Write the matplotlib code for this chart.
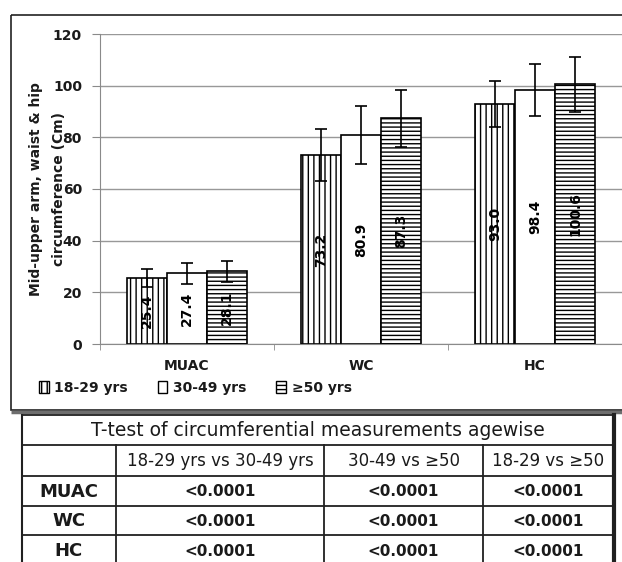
import numpy as np
import matplotlib
matplotlib.use("Agg")
import matplotlib.pyplot as plt
from matplotlib.patches import Patch, Rectangle

plt.rcParams['font.family'] = ['DejaVu Sans']

# mean circumference (cm) per age group and measurement
categories = ['MUAC', 'WC', 'HC']
groups = ['18-29 yrs', '30-49 yrs', '\u226550 yrs']
mean_18_29 = [25.4, 73.2, 93.0]
mean_30_49 = [27.4, 80.9, 98.4]
mean_50_up = [28.1, 87.3, 100.6]
sd_18_29 = [3.5, 10.2, 8.9]
sd_30_49 = [4.0, 11.2, 10.0]
sd_50_up = [4.0, 10.9, 10.6]

# t-test table
table_title = 'T-test of circumferential measurements agewise'
table_cols = ['18-29 yrs vs 30-49 yrs', '30-49 vs \u226550', '18-29 vs \u226550']
table_rows = ['MUAC', 'WC', 'HC']
p_values = [['<0.0001', '<0.0001', '<0.0001'],
            ['<0.0001', '<0.0001', '<0.0001'],
            ['<0.0001', '<0.0001', '<0.0001']]

W, H = 622, 562
fig = plt.figure(figsize=(W / 100, H / 100), dpi=100)

# background axes in pixel units for frame, legend and table
bg = fig.add_axes([0, 0, 1, 1])
bg.set_xlim(0, W)
bg.set_ylim(H, 0)
bg.axis('off')

txt = '#1a1a1a'

# chart frame with shadow
bg.add_patch(Rectangle((11, 15), 700, 395, fill=False, edgecolor='#222222', lw=1.2))
bg.plot([11, W], [411.5, 411.5], color='#6e6e6e', lw=2.5, solid_capstyle='butt')

ax = fig.add_axes([100 / W, (H - 344) / H, 522 / W, 310 / H])
x = np.arange(len(categories))
bw = 0.23
series = [(mean_18_29, sd_18_29, '|||'), (mean_30_49, sd_30_49, ''), (mean_50_up, sd_50_up, '----')]
plt.rcParams['hatch.linewidth'] = 1.0
for i, (vals, sds, hatch) in enumerate(series):
    xs = x + (i - 1) * bw
    ax.bar(xs, vals, bw, color='white', edgecolor='black', hatch=hatch, lw=1.2, zorder=2)
    ax.errorbar(xs, vals, yerr=sds, fmt='none', ecolor='black', elinewidth=1.2,
                capsize=4.5, capthick=1.2, zorder=3)
    for xv, v in zip(xs, vals):
        ax.text(xv, v / 2, f'{v:.1f}', rotation=90, ha='center', va='center',
                fontsize=10, fontweight='bold', color='black', zorder=4)

ax.set_xlim(-0.5, 2.5)
ax.set_ylim(0, 120)
ax.set_yticks(np.arange(0, 121, 20))
ax.grid(axis='y', color='#989898', lw=1)
ax.set_axisbelow(True)
for s in ['top', 'right']:
    ax.spines[s].set_visible(False)
for s in ['left', 'bottom']:
    ax.spines[s].set_color('#8a8a8a')
ax.set_xticks(x)
ax.set_xticklabels(categories)
ax.set_xticks([-0.5, 0.5, 1.5, 2.5], minor=True)
ax.tick_params(axis='x', which='major', length=0, pad=11)
ax.tick_params(axis='x', which='minor', length=4, color='#8a8a8a', direction='out')
ax.tick_params(axis='y', length=6, color='#8a8a8a', pad=7)
for lab in ax.get_xticklabels() + ax.get_yticklabels():
    lab.set_fontweight('bold')
    lab.set_fontsize(10)
    lab.set_color(txt)

fig.text(47.5 / W, 1 - 189 / H, 'Mid-upper arm, waist & hip\ncircumference (Cm)',
         rotation=90, ha='center', va='center', multialignment='center',
         linespacing=1.75, fontsize=10, fontweight='bold', color=txt)

# legend
handles = [Patch(facecolor='white', edgecolor='black', hatch=h, lw=1) for _, _, h in series]
bg.legend(handles, groups, loc='center left', bbox_to_anchor=(39, 388),
          bbox_transform=bg.transData, ncol=3, frameon=False, handlelength=0.7,
          handleheight=1.0, handletextpad=0.4, columnspacing=2.15, borderaxespad=0,
          borderpad=0, prop={'weight': 'bold', 'size': 10}, labelcolor=txt)

# table grid
col_x = [22, 116, 324, 483, 614]
row_y = [415, 445, 476, 506, 535, 566]
lc = '#202020'
for y in row_y:
    bg.plot([col_x[0], col_x[-1]], [y, y], color=lc, lw=1.3)
bg.plot([col_x[0], col_x[0]], [row_y[0], H], color=lc, lw=1.5)
bg.plot([col_x[-1], col_x[-1]], [row_y[0], H], color=lc, lw=3)
for cx in col_x[1:-1]:
    bg.plot([cx, cx], [row_y[1], H], color=lc, lw=1.3)

bg.text((col_x[0] + col_x[-1]) / 2, (row_y[0] + row_y[1]) / 2 + 1, table_title,
        ha='center', va='center', fontsize=13.5, color=txt)
for j, c in enumerate(table_cols):
    bg.text((col_x[j + 1] + col_x[j + 2]) / 2, (row_y[1] + row_y[2]) / 2 + 1, c,
            ha='center', va='center', fontsize=12, color=txt)
for i, r in enumerate(table_rows):
    cy = (row_y[i + 2] + row_y[i + 3]) / 2 + 1
    bg.text((col_x[0] + col_x[1]) / 2, cy, r, ha='center', va='center',
            fontsize=13, fontweight='bold', color=txt)
    for j, p in enumerate(p_values[i]):
        bg.text((col_x[j + 1] + col_x[j + 2]) / 2, cy, p, ha='center', va='center',
                fontsize=11, fontweight='bold', color=txt)

fig.savefig('out.png', dpi=100)
